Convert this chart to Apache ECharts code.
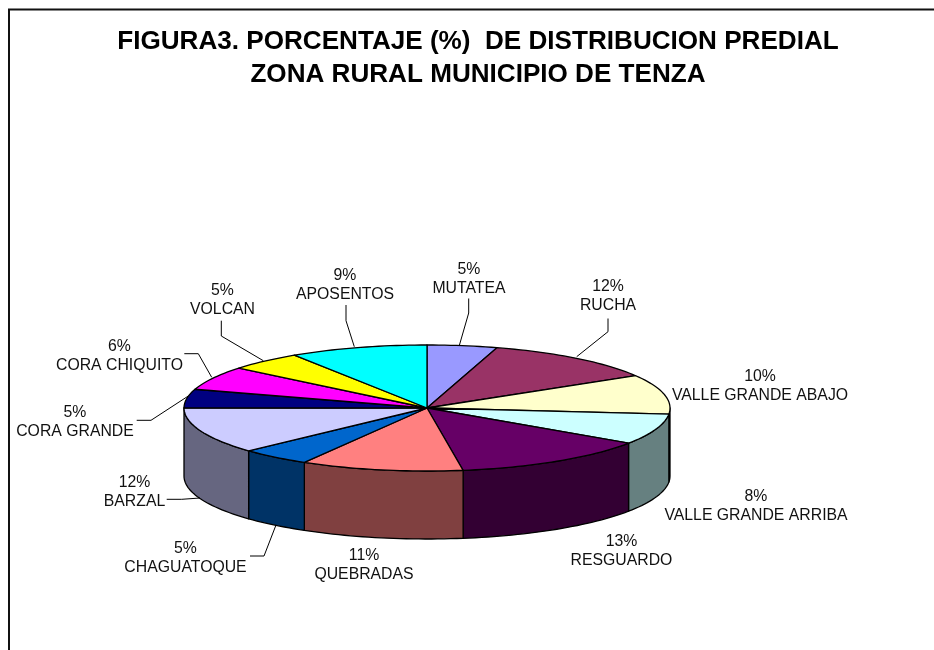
<!DOCTYPE html>
<html>
<head>
<meta charset="utf-8">
<style>html,body{margin:0;padding:0;background:#fff}#c{width:934px;height:650px}</style>
<script src="https://cdn.jsdelivr.net/npm/echarts@6/dist/echarts.min.js"></script>
</head>
<body>
<div id="c"></div>
<script>
var categories = ['MUTATEA','RUCHA','VALLE GRANDE ABAJO','VALLE GRANDE ARRIBA','RESGUARDO','QUEBRADAS','CHAGUATOQUE','BARZAL','CORA GRANDE','CORA CHIQUITO','VOLCAN','APOSENTOS'];
var values = [4.65,11.8,10.1,7.9,13.2,10.8,4.7,11.9,4.8,6.1,4.9,9.2];
var percentLabels = ['5%','12%','10%','8%','13%','11%','5%','12%','5%','6%','5%','9%'];
var colors = ['#9999FF','#993366','#FFFFCC','#CCFFFF','#660066','#FF8080','#0066CC','#CCCCFF','#000080','#FF00FF','#FFFF00','#00FFFF'];
var wallColors = ['#4D4D80','#4D1A33','#808066','#668080','#330033','#804040','#003366','#666680','#000040','#800080','#808000','#008080'];

// Pie layout (pixels)
var CX = 427, CY = 408, RX = 243, RY = 63, DEPTH = 68;
// Label centres and leader paths (layout only)
var labelCentres = [[469,279.5],[608,296.5],[760,386],[756,506.5],[621.5,551],[364,565],[185.5,558],[134.5,492],[75,422],[119.5,356],[222.5,300],[345,285]];
var leaders = [
  [[468.7,298.5],[468.7,313],[459.3,345.5]],
  [[608,318.5],[608,331.7],[576.7,356.7]],
  null, null, null, null,
  [[250,556],[264,556],[276,525]],
  [[166.7,499.3],[181.7,499.3],[200,498]],
  [[136.7,420.3],[151,420.3],[188.3,396]],
  [[184.3,353.7],[198.3,353.7],[211.7,377.3]],
  [[221.3,320.7],[221.3,336],[263.3,360.7]],
  [[346,305],[346,320.7],[354.3,346.7]]
];

var total = values.reduce(function (a, b) { return a + b; }, 0);
function range(i) {
  var s = 0;
  for (var k = 0; k < i; k++) s += values[k];
  return [s / total * 360, (s + values[i]) / total * 360];
}
function pt(deg, dy) {
  var r = deg * Math.PI / 180;
  return [CX + RX * Math.sin(r), CY - RY * Math.cos(r) + (dy || 0)];
}
function arc(a, b, dy) {
  var out = [], n = Math.max(2, Math.ceil(Math.abs(b - a) / 1.5));
  for (var i = 0; i <= n; i++) out.push(pt(a + (b - a) * i / n, dy));
  return out;
}

function renderWall(params) {
  var r = range(params.dataIndex);
  var a = Math.max(r[0], 90), b = Math.min(r[1], 270);
  if (b <= a) return { type: 'group', children: [] };
  return {
    type: 'polygon',
    shape: { points: arc(a, b, 0).concat(arc(b, a, DEPTH)) },
    style: { fill: wallColors[params.dataIndex], stroke: '#000', lineWidth: 1.3, lineJoin: 'round' }
  };
}
function renderTop(params) {
  var r = range(params.dataIndex);
  return {
    type: 'polygon',
    shape: { points: [[CX, CY]].concat(arc(r[0], r[1], 0)) },
    style: { fill: colors[params.dataIndex], stroke: '#000', lineWidth: 1.3, lineJoin: 'round' }
  };
}
function renderLabel(params) {
  var i = params.dataIndex, kids = [];
  if (leaders[i]) kids.push({
    type: 'polyline',
    shape: { points: leaders[i] },
    style: { fill: null, stroke: '#000', lineWidth: 1 }
  });
  kids.push({
    type: 'text',
    x: labelCentres[i][0], y: labelCentres[i][1],
    style: {
      text: percentLabels[i] + '\n' + categories[i],
      align: 'center', verticalAlign: 'middle', lineHeight: 19,
      fill: '#111', font: '15.8px "Liberation Sans", Arial, sans-serif'
    }
  });
  return { type: 'group', children: kids };
}
function seriesOf(name, fn, z) {
  return {
    type: 'custom', name: name, coordinateSystem: 'none', renderItem: fn, z: z,
    silent: true, animation: false, clip: false,
    data: categories.map(function (c, i) { return { name: c, value: [values[i]] }; })
  };
}

var chart = echarts.init(document.getElementById('c'), null, { renderer: 'canvas' });
chart.setOption({
  backgroundColor: '#fff',
  animation: false,
  title: {
    text: 'FIGURA3. PORCENTAJE (%)  DE DISTRIBUCION PREDIAL\nZONA RURAL MUNICIPIO DE TENZA',
    left: 478, top: 25, textAlign: 'center', padding: 0,
    textStyle: { fontFamily: '"Liberation Sans", Arial, sans-serif', fontWeight: 'bold', fontSize: 26.1, lineHeight: 33.5, color: '#000' }
  },
  graphic: [{
    type: 'polyline', silent: true,
    shape: { points: [[9, 650], [9, 9.5], [934, 9.5]] },
    style: { fill: null, stroke: '#111', lineWidth: 2 }
  }],
  series: [seriesOf('walls', renderWall, 1), seriesOf('tops', renderTop, 2), seriesOf('labels', renderLabel, 3)]
});
</script>
</body>
</html>
